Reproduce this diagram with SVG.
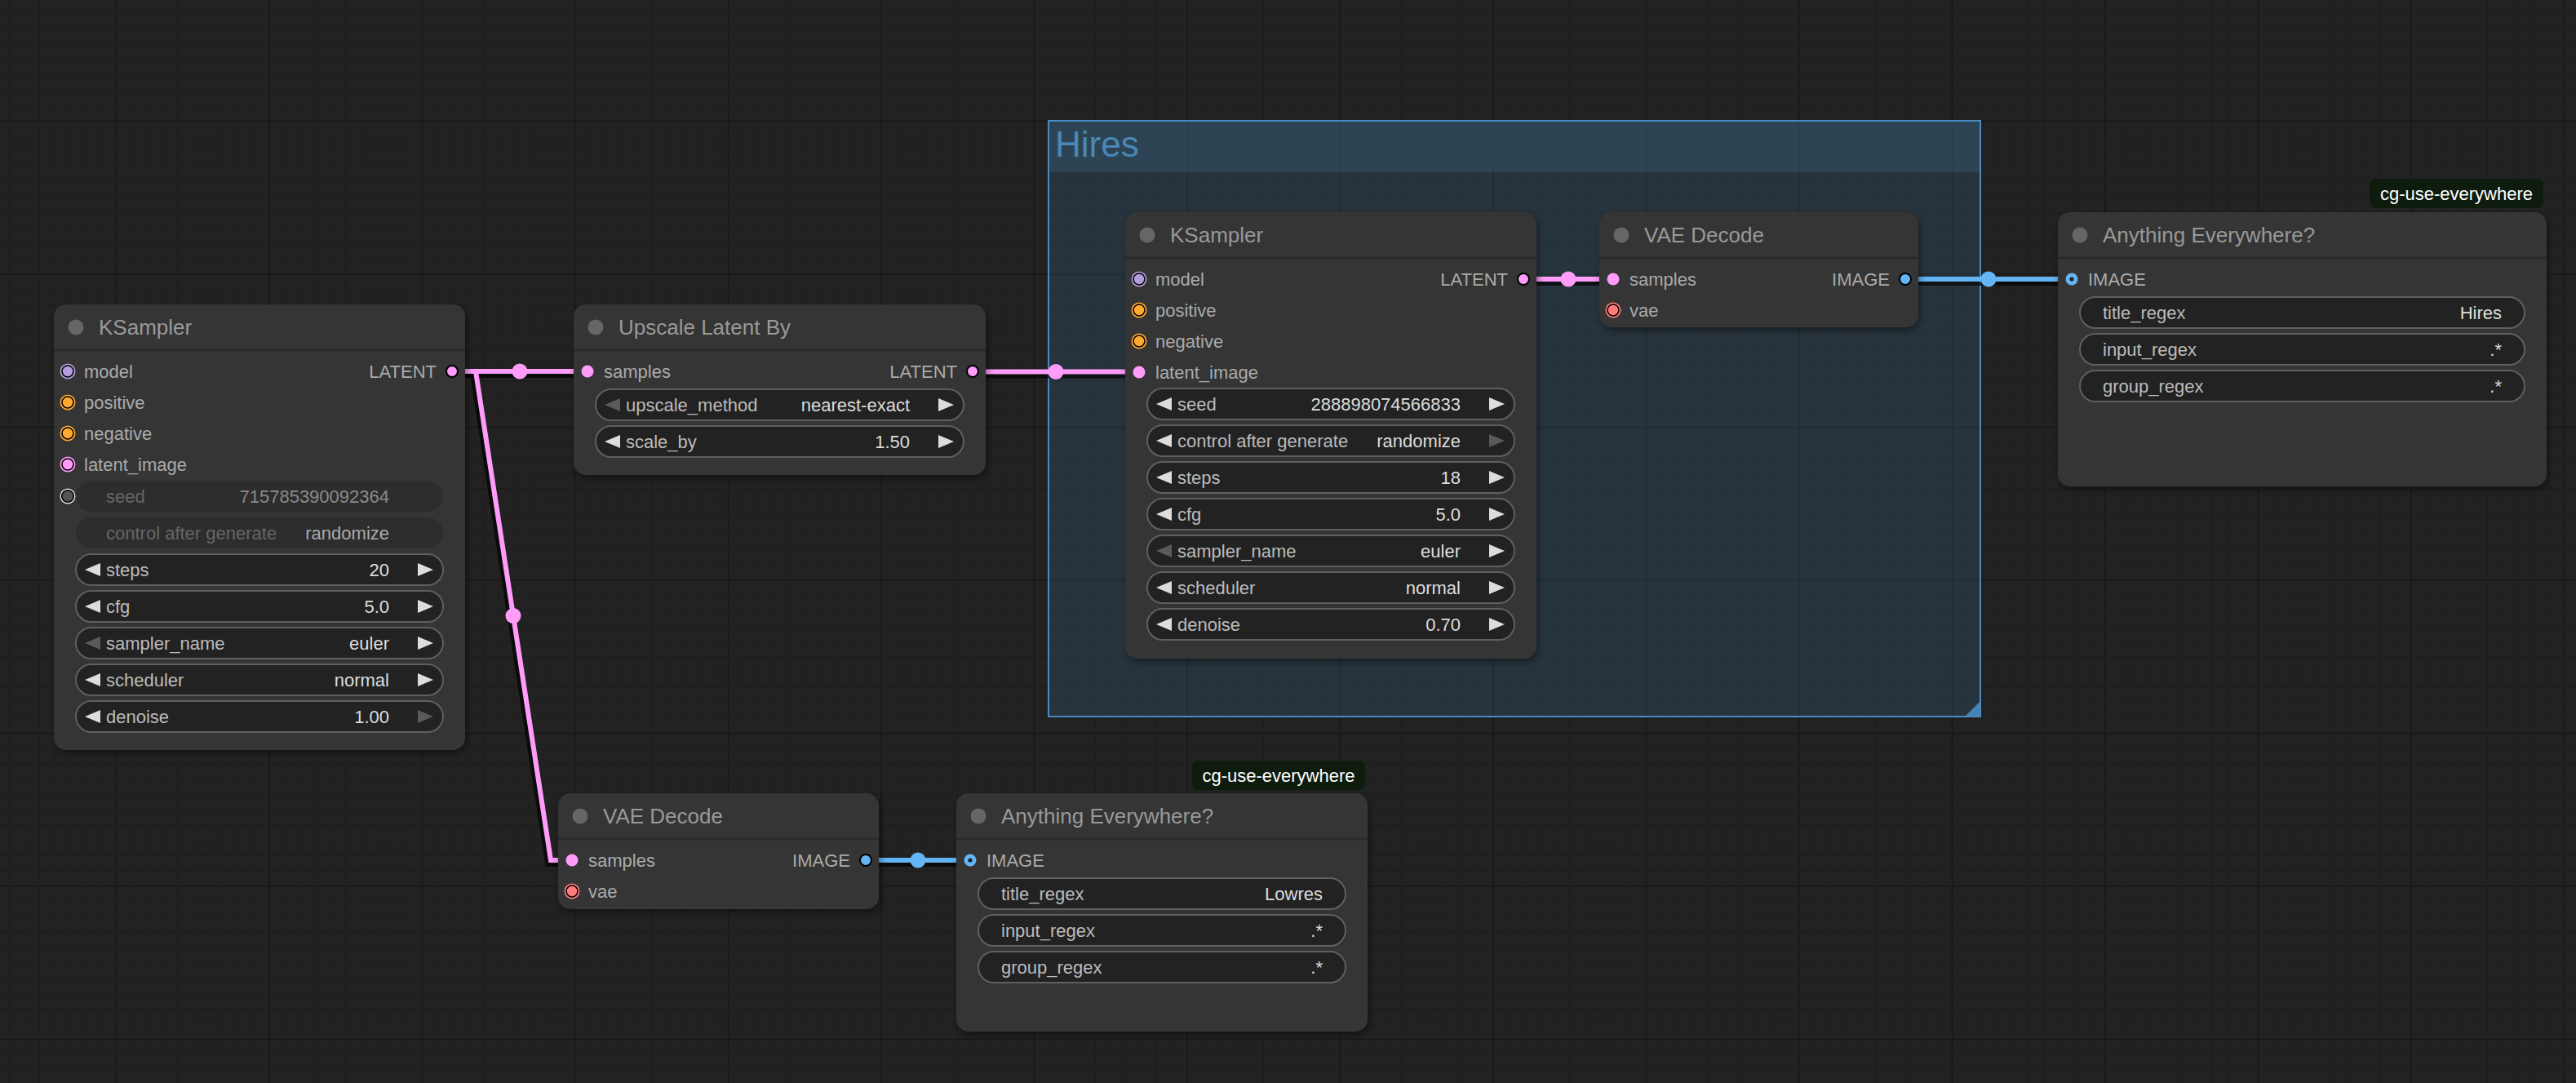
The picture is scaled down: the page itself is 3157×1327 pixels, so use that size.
<svg xmlns="http://www.w3.org/2000/svg" width="3157" height="1327" viewBox="0 0 3157 1327">
<defs>
<pattern id="gmin" patternUnits="userSpaceOnUse" x="10.6" y="16.6" width="18.75" height="18.75">
<path d="M0 0V18.75M0 0H18.75" stroke="#1c1c1c" stroke-width="1.8" fill="none"/>
</pattern>
<pattern id="gmaj" patternUnits="userSpaceOnUse" x="141.7" y="147.7" width="187.5" height="187.5">
<path d="M0 0V187.5M0 0H187.5" stroke="#181818" stroke-width="3.4" fill="none"/>
</pattern>
<filter id="sh" x="-10%" y="-10%" width="125%" height="130%">
<feDropShadow dx="2" dy="4" stdDeviation="5" flood-color="#000" flood-opacity="0.45"/>
</filter>
</defs>
<style>
text{font-family:"Liberation Sans",Arial,sans-serif}
.nb{fill:#353535;filter:url(#sh)}
.dv{stroke:#2a2a2a;stroke-width:3}
.td{fill:#666}
.tt{font-size:26px;fill:#999}
.sl{font-size:22px;fill:#aaa}
.so{font-size:22px;fill:#aaa;text-anchor:end}
.wb{fill:#222;stroke:#5f5f5f;stroke-width:2}
.wd{fill:#2d2d2d}
.wl{font-size:22px;fill:#bbb}
.wv{font-size:22px;fill:#ddd;text-anchor:end}
.dl{font-size:22px;fill:#666}
.ar{fill:#ddd}
.ad{fill:#5a5a5a}
.lk{fill:none;stroke-width:6;stroke-linejoin:miter}
.ls{fill:none;stroke:#000;stroke-opacity:0.65;stroke-width:10}
.bd{fill:#0e1c0e}
.bt{font-size:22px;fill:#fff;text-anchor:middle}
.pk{fill:#FF9CF9}
.bl{fill:#64B5F6}
</style>
<rect width="3157" height="1327" fill="#222"/>
<rect width="3157" height="1327" fill="url(#gmin)"/>
<rect width="3157" height="1327" fill="url(#gmaj)"/>

<g id="group-hires">
<rect x="1285" y="148" width="1142" height="730" fill="#3f789e" fill-opacity="0.22"/>
<rect x="1285" y="148" width="1142" height="63" fill="#3f789e" fill-opacity="0.24"/>
<rect x="1285" y="148" width="1142" height="730" fill="none" stroke="#4b8bc2" stroke-width="2"/>
<text x="1293" y="192" font-size="44" fill="#4a88b8">Hires</text>
<polygon points="2409,877 2426,877 2426,860" fill="#4682b4"/>
</g>

<g id="links">
<g transform="translate(-2,3)">
<path class="ls" d="M554 455H721"/>
<path class="ls" d="M554 455H583L675 1054H702"/>
<path class="ls" d="M1192 455.5H1396"/>
<path class="ls" d="M1867 342H1977"/>
<path class="ls" d="M2335 342H2539"/>
<path class="ls" d="M1061 1054H1189"/>
</g>
<path class="lk" stroke="#FF9CF9" d="M554 455H721"/>
<path class="lk" stroke="#FF9CF9" d="M554 455H583L675 1054H702"/>
<path class="lk" stroke="#FF9CF9" d="M1192 455.5H1396"/>
<path class="lk" stroke="#FF9CF9" d="M1867 342H1977"/>
<path class="lk" stroke="#64B5F6" d="M2335 342H2539"/>
<path class="lk" stroke="#64B5F6" d="M1061 1054H1189"/>
<circle class="pk" cx="637" cy="455" r="9.5"/>
<circle class="pk" cx="629" cy="754.5" r="9.5"/>
<circle class="pk" cx="1294" cy="455.5" r="9.5"/>
<circle class="pk" cx="1922" cy="342" r="9.5"/>
<circle class="bl" cx="2437" cy="342" r="9.5"/>
<circle class="bl" cx="1125" cy="1054" r="9.5"/>
</g>

<g id="node-ksampler-lowres">
<rect class="nb" x="66" y="373" width="504" height="546" rx="15"/>
<line class="dv" x1="66" y1="429" x2="570" y2="429"/>
<circle class="td" cx="93" cy="401" r="9.5"/>
<text class="tt" x="121" y="410">KSampler</text>
<circle cx="83" cy="455" r="9.5" fill="#B39DDB"/><circle cx="83" cy="455" r="7" fill="#B39DDB" stroke="#000" stroke-width="1.6"/>
<text class="sl" x="103" y="463">model</text>
<circle cx="83" cy="493" r="9.5" fill="#FFA931"/><circle cx="83" cy="493" r="7" fill="#FFA931" stroke="#000" stroke-width="1.6"/>
<text class="sl" x="103" y="501">positive</text>
<circle cx="83" cy="531" r="9.5" fill="#FFA931"/><circle cx="83" cy="531" r="7" fill="#FFA931" stroke="#000" stroke-width="1.6"/>
<text class="sl" x="103" y="539">negative</text>
<circle cx="83" cy="569" r="9.5" fill="#FF9CF9"/><circle cx="83" cy="569" r="7" fill="#FF9CF9" stroke="#000" stroke-width="1.6"/>
<text class="sl" x="103" y="577">latent_image</text>
<circle cx="554" cy="455" r="7" class="pk" stroke="#000" stroke-width="2"/>
<text class="so" x="535" y="463">LATENT</text>
<circle cx="83" cy="608" r="9.5" fill="#e6e6e6"/><circle cx="83" cy="608" r="7.3" fill="#555" stroke="#000" stroke-width="1.6"/>
<rect class="wd" x="93" y="589" width="450" height="38" rx="19"/>
<text class="dl" x="130" y="616">seed</text>
<text class="wv" x="477" y="616" fill="#8a8a8a" style="fill:#8a8a8a">715785390092364</text>
<rect class="wd" x="93" y="634" width="450" height="38" rx="19"/>
<text class="dl" x="130" y="661">control after generate</text>
<text class="wv" x="477" y="661" style="fill:#aaa">randomize</text>
<rect class="wb" x="93" y="679" width="450" height="38" rx="19"/>
<polygon class="ar" points="104,698 123,690 123,706"/><polygon class="ar" points="531,698 512,690 512,706"/>
<text class="wl" x="130" y="706">steps</text><text class="wv" x="477" y="706">20</text>
<rect class="wb" x="93" y="724" width="450" height="38" rx="19"/>
<polygon class="ar" points="104,743 123,735 123,751"/><polygon class="ar" points="531,743 512,735 512,751"/>
<text class="wl" x="130" y="751">cfg</text><text class="wv" x="477" y="751">5.0</text>
<rect class="wb" x="93" y="769" width="450" height="38" rx="19"/>
<polygon class="ad" points="104,788 123,780 123,796"/><polygon class="ar" points="531,788 512,780 512,796"/>
<text class="wl" x="130" y="796">sampler_name</text><text class="wv" x="477" y="796">euler</text>
<rect class="wb" x="93" y="814" width="450" height="38" rx="19"/>
<polygon class="ar" points="104,833 123,825 123,841"/><polygon class="ar" points="531,833 512,825 512,841"/>
<text class="wl" x="130" y="841">scheduler</text><text class="wv" x="477" y="841">normal</text>
<rect class="wb" x="93" y="859" width="450" height="38" rx="19"/>
<polygon class="ar" points="104,878 123,870 123,886"/><polygon class="ad" points="531,878 512,870 512,886"/>
<text class="wl" x="130" y="886">denoise</text><text class="wv" x="477" y="886">1.00</text>
</g>

<g id="node-upscale-latent-by">
<rect class="nb" x="703" y="373" width="505" height="209" rx="15"/>
<line class="dv" x1="703" y1="429" x2="1208" y2="429"/>
<circle class="td" cx="730" cy="401" r="9.5"/>
<text class="tt" x="758" y="410">Upscale Latent By</text>
<circle class="pk" cx="720" cy="455" r="7.5"/>
<text class="sl" x="740" y="463">samples</text>
<circle cx="1192" cy="455" r="7" class="pk" stroke="#000" stroke-width="2"/>
<text class="so" x="1173" y="463">LATENT</text>
<rect class="wb" x="730" y="477" width="451" height="38" rx="19"/>
<polygon class="ad" points="741,496 760,488 760,504"/><polygon class="ar" points="1169,496 1150,488 1150,504"/>
<text class="wl" x="767" y="504">upscale_method</text><text class="wv" x="1115" y="504">nearest-exact</text>
<rect class="wb" x="730" y="522" width="451" height="38" rx="19"/>
<polygon class="ar" points="741,541 760,533 760,549"/><polygon class="ar" points="1169,541 1150,533 1150,549"/>
<text class="wl" x="767" y="549">scale_by</text><text class="wv" x="1115" y="549">1.50</text>
</g>

<g id="node-ksampler-hires">
<rect class="nb" x="1379" y="260" width="504" height="547" rx="15"/>
<line class="dv" x1="1379" y1="316" x2="1883" y2="316"/>
<circle class="td" cx="1406" cy="288" r="9.5"/>
<text class="tt" x="1434" y="297">KSampler</text>
<circle cx="1396" cy="342" r="9.5" fill="#B39DDB"/><circle cx="1396" cy="342" r="7" fill="#B39DDB" stroke="#000" stroke-width="1.6"/>
<text class="sl" x="1416" y="350">model</text>
<circle cx="1396" cy="380" r="9.5" fill="#FFA931"/><circle cx="1396" cy="380" r="7" fill="#FFA931" stroke="#000" stroke-width="1.6"/>
<text class="sl" x="1416" y="388">positive</text>
<circle cx="1396" cy="418" r="9.5" fill="#FFA931"/><circle cx="1396" cy="418" r="7" fill="#FFA931" stroke="#000" stroke-width="1.6"/>
<text class="sl" x="1416" y="426">negative</text>
<circle class="pk" cx="1396" cy="456" r="7.5"/>
<text class="sl" x="1416" y="464">latent_image</text>
<circle cx="1867" cy="342" r="7" class="pk" stroke="#000" stroke-width="2"/>
<text class="so" x="1848" y="350">LATENT</text>
<rect class="wb" x="1406" y="476" width="450" height="38" rx="19"/>
<polygon class="ar" points="1417,495 1436,487 1436,503"/><polygon class="ar" points="1844,495 1825,487 1825,503"/>
<text class="wl" x="1443" y="503">seed</text><text class="wv" x="1790" y="503">288898074566833</text>
<rect class="wb" x="1406" y="521" width="450" height="38" rx="19"/>
<polygon class="ar" points="1417,540 1436,532 1436,548"/><polygon class="ad" points="1844,540 1825,532 1825,548"/>
<text class="wl" x="1443" y="548">control after generate</text><text class="wv" x="1790" y="548">randomize</text>
<rect class="wb" x="1406" y="566" width="450" height="38" rx="19"/>
<polygon class="ar" points="1417,585 1436,577 1436,593"/><polygon class="ar" points="1844,585 1825,577 1825,593"/>
<text class="wl" x="1443" y="593">steps</text><text class="wv" x="1790" y="593">18</text>
<rect class="wb" x="1406" y="611" width="450" height="38" rx="19"/>
<polygon class="ar" points="1417,630 1436,622 1436,638"/><polygon class="ar" points="1844,630 1825,622 1825,638"/>
<text class="wl" x="1443" y="638">cfg</text><text class="wv" x="1790" y="638">5.0</text>
<rect class="wb" x="1406" y="656" width="450" height="38" rx="19"/>
<polygon class="ad" points="1417,675 1436,667 1436,683"/><polygon class="ar" points="1844,675 1825,667 1825,683"/>
<text class="wl" x="1443" y="683">sampler_name</text><text class="wv" x="1790" y="683">euler</text>
<rect class="wb" x="1406" y="701" width="450" height="38" rx="19"/>
<polygon class="ar" points="1417,720 1436,712 1436,728"/><polygon class="ar" points="1844,720 1825,712 1825,728"/>
<text class="wl" x="1443" y="728">scheduler</text><text class="wv" x="1790" y="728">normal</text>
<rect class="wb" x="1406" y="746" width="450" height="38" rx="19"/>
<polygon class="ar" points="1417,765 1436,757 1436,773"/><polygon class="ar" points="1844,765 1825,757 1825,773"/>
<text class="wl" x="1443" y="773">denoise</text><text class="wv" x="1790" y="773">0.70</text>
</g>

<g id="node-vae-decode-hires">
<rect class="nb" x="1960" y="260" width="391" height="141" rx="15"/>
<line class="dv" x1="1960" y1="316" x2="2351" y2="316"/>
<circle class="td" cx="1987" cy="288" r="9.5"/>
<text class="tt" x="2015" y="297">VAE Decode</text>
<circle class="pk" cx="1977" cy="342" r="7.5"/>
<text class="sl" x="1997" y="350">samples</text>
<circle cx="1977" cy="380" r="9.5" fill="#FF7B7B"/><circle cx="1977" cy="380" r="7" fill="#FF7B7B" stroke="#000" stroke-width="1.6"/>
<text class="sl" x="1997" y="388">vae</text>
<circle cx="2335" cy="342" r="7" class="bl" stroke="#000" stroke-width="2"/>
<text class="so" x="2316" y="350">IMAGE</text>
</g>

<g id="node-anything-everywhere-hires">
<rect class="bd" x="2904" y="219" width="213" height="36" rx="8"/>
<text class="bt" x="3010.5" y="245">cg-use-everywhere</text>
<rect class="nb" x="2522" y="260" width="599" height="336" rx="15"/>
<line class="dv" x1="2522" y1="316" x2="3121" y2="316"/>
<circle class="td" cx="2549" cy="288" r="9.5"/>
<text class="tt" x="2577" y="297">Anything Everywhere?</text>
<circle class="bl" cx="2539" cy="342" r="7.5"/><circle cx="2539" cy="342" r="2.6" fill="#222"/>
<text class="sl" x="2559" y="350">IMAGE</text>
<rect class="wb" x="2549" y="364" width="545" height="38" rx="19"/>
<text class="wl" x="2577" y="391">title_regex</text><text class="wv" x="3066" y="391">Hires</text>
<rect class="wb" x="2549" y="409" width="545" height="38" rx="19"/>
<text class="wl" x="2577" y="436">input_regex</text><text class="wv" x="3066" y="436">.*</text>
<rect class="wb" x="2549" y="454" width="545" height="38" rx="19"/>
<text class="wl" x="2577" y="481">group_regex</text><text class="wv" x="3066" y="481">.*</text>
</g>

<g id="node-vae-decode-lowres">
<rect class="nb" x="684" y="972" width="393" height="142" rx="15"/>
<line class="dv" x1="684" y1="1028" x2="1077" y2="1028"/>
<circle class="td" cx="711" cy="1000" r="9.5"/>
<text class="tt" x="739" y="1009">VAE Decode</text>
<circle class="pk" cx="701" cy="1054" r="7.5"/>
<text class="sl" x="721" y="1062">samples</text>
<circle cx="701" cy="1092" r="9.5" fill="#FF7B7B"/><circle cx="701" cy="1092" r="7" fill="#FF7B7B" stroke="#000" stroke-width="1.6"/>
<text class="sl" x="721" y="1100">vae</text>
<circle cx="1061" cy="1054" r="7" class="bl" stroke="#000" stroke-width="2"/>
<text class="so" x="1042" y="1062">IMAGE</text>
</g>

<g id="node-anything-everywhere-lowres">
<rect class="bd" x="1461" y="932" width="212" height="36" rx="8"/>
<text class="bt" x="1567" y="958">cg-use-everywhere</text>
<rect class="nb" x="1172" y="972" width="504" height="292" rx="15"/>
<line class="dv" x1="1172" y1="1028" x2="1676" y2="1028"/>
<circle class="td" cx="1199" cy="1000" r="9.5"/>
<text class="tt" x="1227" y="1009">Anything Everywhere?</text>
<circle class="bl" cx="1189" cy="1054" r="7.5"/><circle cx="1189" cy="1054" r="2.6" fill="#222"/>
<text class="sl" x="1209" y="1062">IMAGE</text>
<rect class="wb" x="1199" y="1076" width="450" height="38" rx="19"/>
<text class="wl" x="1227" y="1103">title_regex</text><text class="wv" x="1621" y="1103">Lowres</text>
<rect class="wb" x="1199" y="1121" width="450" height="38" rx="19"/>
<text class="wl" x="1227" y="1148">input_regex</text><text class="wv" x="1621" y="1148">.*</text>
<rect class="wb" x="1199" y="1166" width="450" height="38" rx="19"/>
<text class="wl" x="1227" y="1193">group_regex</text><text class="wv" x="1621" y="1193">.*</text>
</g>
</svg>
